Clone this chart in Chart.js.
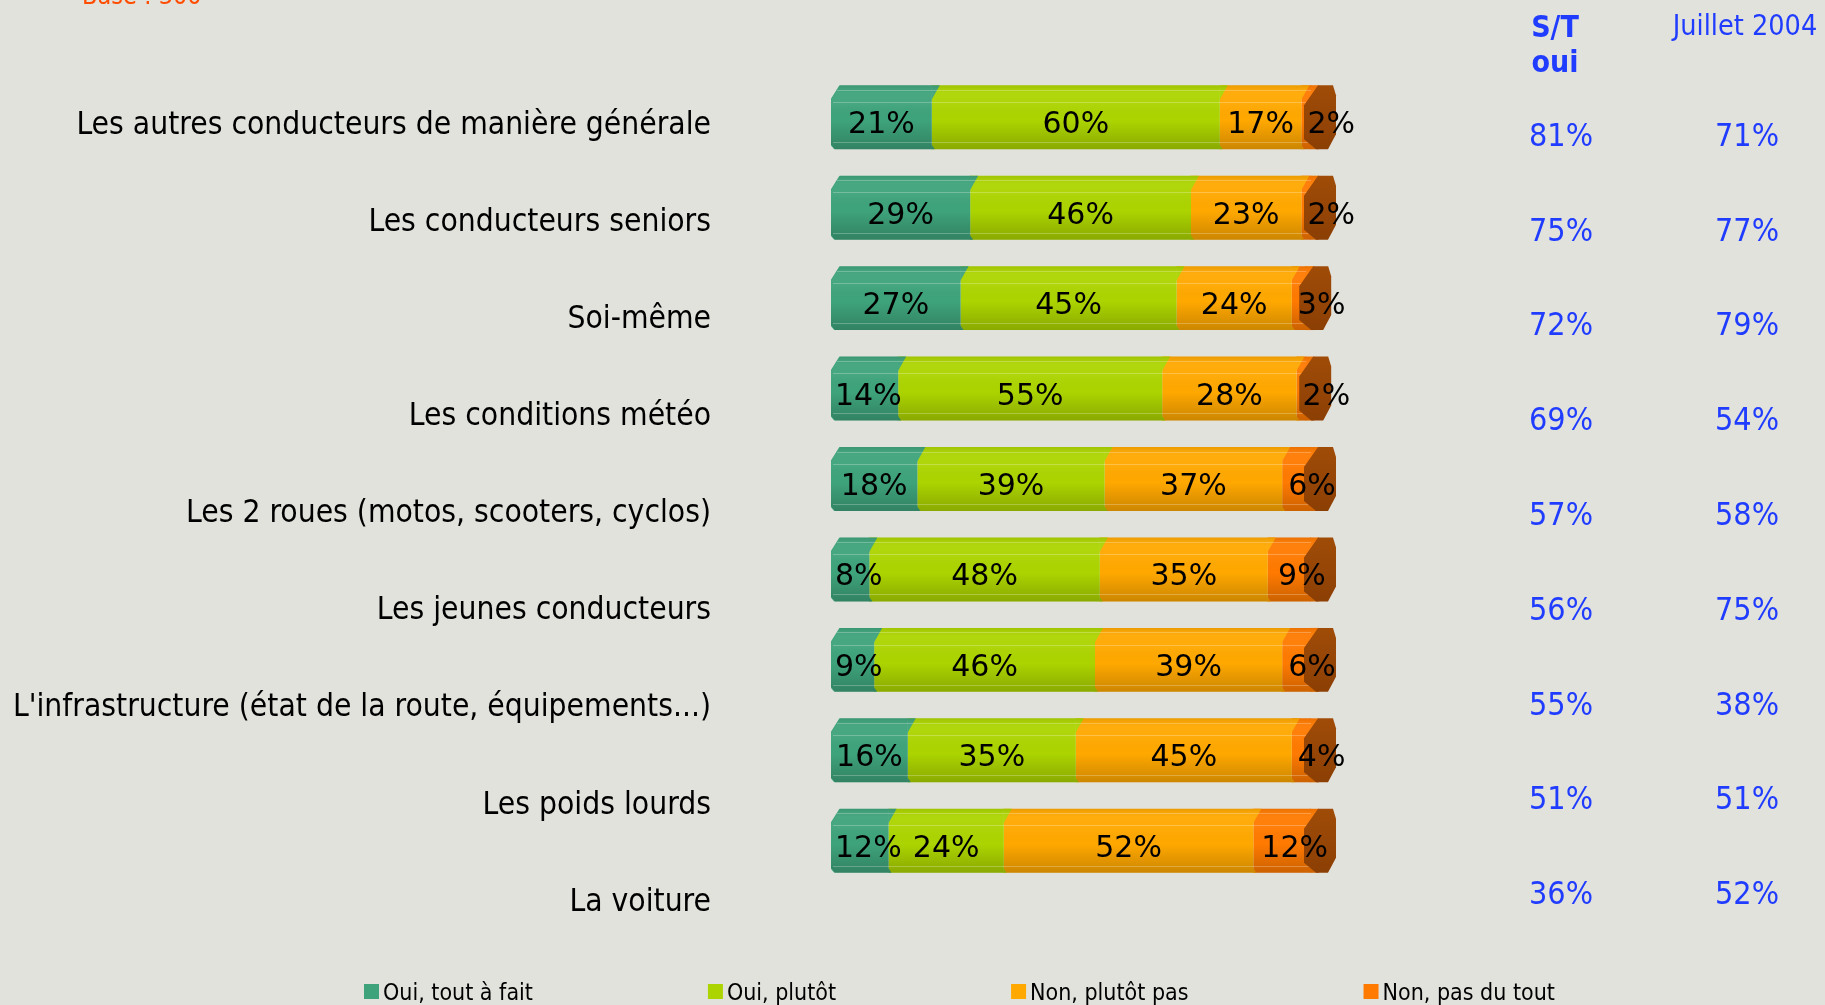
<!DOCTYPE html>
<html><head><meta charset="utf-8">
<script src="https://cdn.jsdelivr.net/npm/chart.js@4.4.1/dist/chart.umd.min.js"></script>
<style>html,body{margin:0;padding:0;background:#e2e2dd;overflow:hidden}</style>
</head><body><canvas id="c" width="1825" height="1005"></canvas>
<script>
const categories = [
  'Les autres conducteurs de manière générale',
  'Les conducteurs seniors',
  'Soi-même',
  'Les conditions météo',
  'Les 2 roues (motos, scooters, cyclos)',
  'Les jeunes conducteurs',
  "L'infrastructure (état de la route, équipements...)",
  'Les poids lourds',
  'La voiture'
];
const ouiToutAFait = [21, 29, 27, 14, 18, 8, 9, 16, 12];
const ouiPlutot    = [60, 46, 45, 55, 39, 48, 46, 35, 24];
const nonPlutotPas = [17, 23, 24, 28, 37, 35, 39, 45, 52];
const nonPasDuTout = [2, 2, 3, 2, 6, 9, 6, 4, 12];
const stOui        = [81, 75, 72, 69, 57, 56, 55, 51, 36];
const juillet2004  = [71, 77, 79, 54, 58, 75, 38, 51, 52];
const seriesNames  = ['Oui, tout à fait', 'Oui, plutôt', 'Non, plutôt pas', 'Non, pas du tout'];
const seriesColors = ['#3ea37b', '#acd400', '#ffa800', '#ff7a00'];
const headerST = ['S/T', 'oui'];
const headerJuillet = 'Juillet 2004';
const baseNote = 'Base : 300';

const BG = '#e2e2dd';
const BLUE = '#1f3cff';
const LABEL_FONT = '"DejaVu Sans Condensed", "DejaVu Sans", sans-serif';

function poly(ctx, pts, fill) {
  ctx.beginPath();
  ctx.moveTo(pts[0][0], pts[0][1]);
  for (let i = 1; i < pts.length; i++) ctx.lineTo(pts[i][0], pts[i][1]);
  ctx.closePath();
  if (fill) { ctx.fillStyle = fill; ctx.fill(); }
}

const decor = {
  id: 'decor',
  beforeDraw(chart) {
    const c = chart.ctx;
    c.save(); c.fillStyle = BG; c.fillRect(0, 0, chart.width, chart.height); c.restore();
  },
  afterDatasetsDraw(chart) {
    const ctx = chart.ctx;
    const metas = [0, 1, 2, 3].map(i => chart.getDatasetMeta(i));
    ctx.save();
    for (let r = 0; r < categories.length; r++) {
      const els = metas.map(m => m.data[r]);
      const top = els[0].y - els[0].height / 2, bot = els[0].y + els[0].height / 2, h = bot - top;
      const x0 = els[0].base, xe = els[3].x;
      poly(ctx, [[xe - 1, top], [xe + 8, top], [xe + 8, bot], [xe - 1, bot]], seriesColors[3]);
      for (let d = 1; d < 4; d++) {
        const xs = els[d].base;
        poly(ctx, [[xs - 0.5, top], [xs + 8, top], [xs - 0.5, top + 15]], seriesColors[d - 1]);
        poly(ctx, [[xs - 0.5, bot], [xs + 3, bot], [xs - 0.5, bot - 5]], seriesColors[d - 1]);
      }
      poly(ctx, [[x0 - 1, top - 1], [x0 + 9, top - 1], [x0 - 1, top + 15]], BG);
      poly(ctx, [[x0 - 1, bot + 1], [x0 + 4, bot + 1], [x0 - 1, bot - 5]], BG);
      const g = ctx.createLinearGradient(0, top, 0, bot);
      g.addColorStop(0, 'rgba(0,0,0,0.08)');
      g.addColorStop(0.12, 'rgba(255,255,255,0.05)');
      g.addColorStop(0.3, 'rgba(255,255,255,0.04)');
      g.addColorStop(0.55, 'rgba(0,0,0,0)');
      g.addColorStop(1, 'rgba(0,0,0,0.2)');
      poly(ctx, [[x0 + 9, top], [xe + 8, top], [xe + 8, bot], [x0 + 4, bot], [x0, bot - 5], [x0, top + 15]], g);
      ctx.fillStyle = 'rgba(255,255,255,0.25)';
      [0.07, 0.26, 0.89].forEach(f => {
        const yy = Math.round(top + f * h);
        const xl = f < 0.2 ? x0 + 6 : x0 + 2;
        ctx.fillRect(xl, yy, xe - xl, 1);
      });
      const cg = ctx.createLinearGradient(0, top, 0, bot);
      cg.addColorStop(0, '#a04c08');
      cg.addColorStop(1, '#8c3f04');
      poly(ctx, [[xe + 7, top], [xe + 22, top], [xe + 25, top + 10], [xe + 25, bot - 15],
                 [xe + 17, bot], [xe + 5, bot], [xe - 7, bot - 10], [xe - 7, top + 20]], cg);
      ctx.font = '30px "DejaVu Sans", sans-serif';
      ctx.fillStyle = '#000';
      ctx.textAlign = 'center';
      ctx.textBaseline = 'alphabetic';
      const sets = [ouiToutAFait, ouiPlutot, nonPlutotPas, nonPasDuTout];
      for (let d = 0; d < 4; d++) {
        const el = els[d];
        const txt = sets[d][r] + '%';
        const w = ctx.measureText(txt).width;
        let x = (el.base + el.x) / 2;
        if (d === 0) x = Math.max(x, el.base + w / 2 + 4);
        if (d === 3) x = Math.max((el.base + xe + 25) / 2, el.base + w / 2 + 6);
        ctx.fillText(txt, x, el.y + 5 + 11);
      }
    }
    ctx.restore();
  },
  afterDraw(chart) {
    const ctx = chart.ctx;
    const ca = chart.chartArea;
    const yLab = chart.scales.yLab, yCol = chart.scales.yCol;
    ctx.save();
    ctx.textBaseline = 'alphabetic';
    ctx.fillStyle = '#ff4d00';
    ctx.font = '25px ' + LABEL_FONT;
    ctx.textAlign = 'left';
    ctx.fillText(baseNote, 82, 4);
    ctx.fillStyle = '#000';
    ctx.font = '31.5px ' + LABEL_FONT;
    ctx.textAlign = 'right';
    categories.forEach((c, i) => ctx.fillText(c, ca.left - 120, yLab.getPixelForValue(i) + 11.5));
    ctx.fillStyle = BLUE;
    ctx.textAlign = 'center';
    ctx.font = 'bold 30px ' + LABEL_FONT;
    ctx.fillText(headerST[0], 1555, 37);
    ctx.fillText(headerST[1], 1555, 72);
    ctx.font = '28.5px ' + LABEL_FONT;
    ctx.fillText(headerJuillet, 1745, 35);
    ctx.font = '32px ' + LABEL_FONT;
    stOui.forEach((v, i) => ctx.fillText(v + '%', 1561, yCol.getPixelForValue(i) + 11.5));
    juillet2004.forEach((v, i) => ctx.fillText(v + '%', 1747, yCol.getPixelForValue(i) + 11.5));
    ctx.font = '23px ' + LABEL_FONT;
    ctx.textAlign = 'left';
    let x = 364;
    seriesNames.forEach((n, i) => {
      ctx.fillStyle = seriesColors[i];
      ctx.fillRect(x, 984, 15, 15);
      ctx.fillStyle = '#000';
      ctx.fillText(n, x + 19, 999.5);
      x += 19 + ctx.measureText(n).width + 175;
    });
    ctx.restore();
  }
};

const data = {
  labels: categories,
  datasets: [ouiToutAFait, ouiPlutot, nonPlutotPas, nonPasDuTout].map((arr, i) => ({
    label: seriesNames[i],
    data: arr,
    backgroundColor: seriesColors[i],
    borderWidth: 0,
    xAxisID: 'x',
    yAxisID: 'y',
    barPercentage: 0.707,
    categoryPercentage: 1
  }))
};

new Chart(document.getElementById('c'), {
  type: 'bar',
  data,
  options: {
    indexAxis: 'y',
    responsive: false,
    animation: false,
    devicePixelRatio: 1,
    layout: { padding: { left: 831, right: 514, top: 72, bottom: 119 } },
    plugins: { legend: { display: false }, tooltip: { enabled: false } },
    scales: {
      x: { type: 'linear', stacked: true, min: 0, max: 100, display: false },
      y: { type: 'category', stacked: true, display: false },
      yLab: { axis: 'y', type: 'linear', display: false, offset: false, reverse: true, min: -0.516, max: 7.864 },
      yCol: { axis: 'y', type: 'linear', display: false, offset: false, reverse: true, min: -0.657, max: 7.930 }
    }
  },
  plugins: [decor]
});
</script>
</body></html>
